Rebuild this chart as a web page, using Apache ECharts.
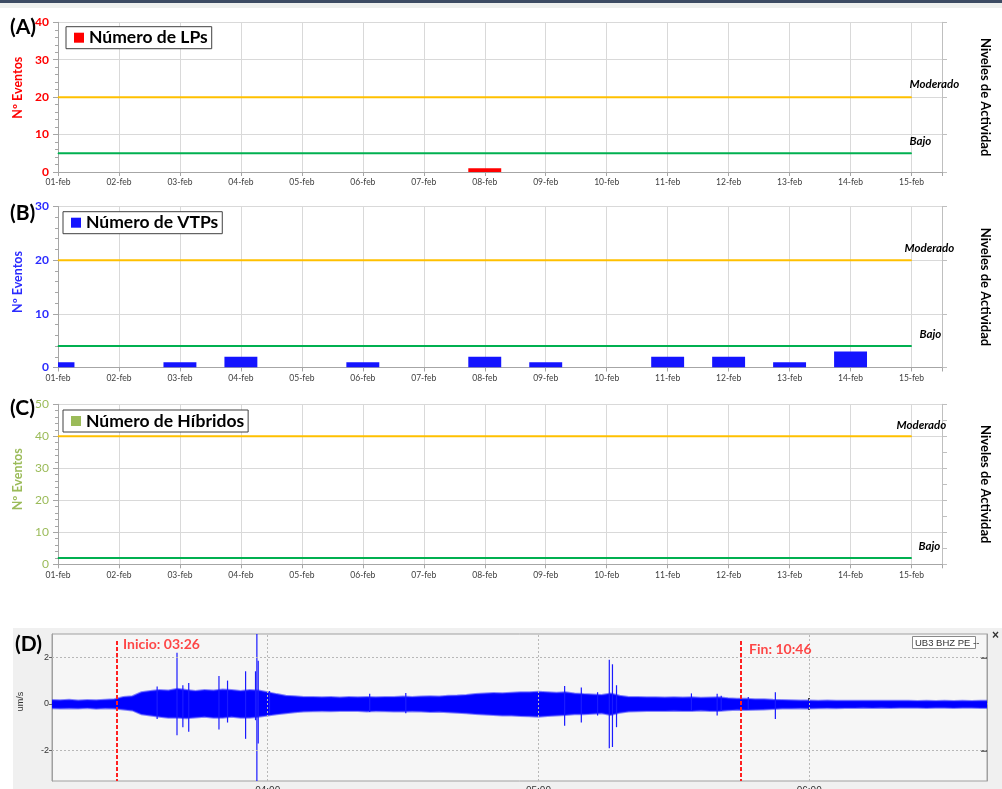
<!DOCTYPE html>
<html><head><meta charset="utf-8">
<script src="https://cdn.jsdelivr.net/npm/echarts@6/dist/echarts.min.js"></script>
<style>html,body{margin:0;padding:0;background:#fff;}#c{width:1002px;height:789px;}</style>
</head><body><div id="c"></div>
<script>
// ---------- DATA ----------
const dates = ['01-feb','02-feb','03-feb','04-feb','05-feb','06-feb','07-feb','08-feb','09-feb','10-feb','11-feb','12-feb','13-feb','14-feb','15-feb'];
const lpCounts  = [0,0,0,0,0,0,0,1,0,0,0,0,0,0,0];
const vtpCounts = [1,0,1,2,0,1,0,2,1,0,2,2,1,3,0];
const hybCounts = [0,0,0,0,0,0,0,0,0,0,0,0,0,0,0];
const seriesNames = ['Número de LPs','Número de VTPs','Número de Híbridos'];
const levelModerado = [20, 20, 40];
const levelBajo = [5, 4, 2];
const levelNames = ['Moderado','Bajo'];
const yMaxes = [40, 30, 50];

// Seismogram (minutes after 00:00), envelope
const seisTime = [192,194,196,198,200,202,204,206,208,210,212,214,216,218,220,222,224,226,228,230,232,234,236,238,240,242,244,246,248,250,252,254,256,258,260,262,264,266,268,270,272,274,276,278,280,282,284,286,288,290,292,294,296,298,300,302,304,306,308,310,312,314,316,318,320,322,324,326,328,330,332,334,336,338,340,342,344,346,348,350,352,354,356,358,360,362,364,366,368,370,372,374,376,378,380,382,384,386,388,390,392,394,396,398,400];
const seisUpper = [0.17,0.16,0.18,0.15,0.17,0.16,0.18,0.2,0.3,0.33,0.5,0.55,0.6,0.58,0.65,0.6,0.55,0.6,0.58,0.62,0.6,0.55,0.6,0.58,0.5,0.42,0.35,0.33,0.3,0.3,0.28,0.3,0.27,0.3,0.28,0.3,0.28,0.3,0.3,0.32,0.3,0.32,0.33,0.32,0.35,0.36,0.38,0.42,0.45,0.47,0.46,0.48,0.5,0.5,0.52,0.5,0.48,0.5,0.45,0.42,0.4,0.38,0.45,0.35,0.3,0.3,0.28,0.28,0.27,0.28,0.27,0.28,0.26,0.27,0.28,0.24,0.22,0.22,0.2,0.2,0.18,0.17,0.16,0.15,0.15,0.14,0.15,0.14,0.13,0.14,0.13,0.14,0.13,0.13,0.14,0.13,0.12,0.13,0.12,0.13,0.12,0.13,0.12,0.13,0.13];
const seisLower = [-0.18,-0.2,-0.19,-0.2,-0.18,-0.21,-0.19,-0.2,-0.24,-0.28,-0.45,-0.5,-0.55,-0.6,-0.6,-0.62,-0.58,-0.55,-0.6,-0.6,-0.55,-0.6,-0.6,-0.55,-0.5,-0.45,-0.4,-0.36,-0.33,-0.32,-0.3,-0.32,-0.3,-0.31,-0.3,-0.33,-0.3,-0.32,-0.33,-0.33,-0.32,-0.33,-0.35,-0.34,-0.36,-0.38,-0.4,-0.43,-0.46,-0.48,-0.5,-0.5,-0.52,-0.53,-0.55,-0.52,-0.5,-0.48,-0.45,-0.45,-0.42,-0.4,-0.48,-0.38,-0.33,-0.32,-0.3,-0.3,-0.3,-0.29,-0.3,-0.3,-0.28,-0.3,-0.3,-0.27,-0.25,-0.26,-0.25,-0.24,-0.22,-0.2,-0.2,-0.19,-0.2,-0.19,-0.18,-0.19,-0.18,-0.18,-0.17,-0.18,-0.17,-0.18,-0.17,-0.17,-0.17,-0.18,-0.17,-0.17,-0.18,-0.17,-0.17,-0.18,-0.18];
// spikes: [time, top, bottom]
const seisSpikes = [[215.5,0.75,-0.65],[219.9,2.2,-1.35],[221.2,0.8,-1.0],[222.5,0.9,-1.2],[229.2,1.2,-1.1],[231.1,1.0,-0.8],[235.1,1.4,-1.5],[237.3,1.4,-0.7],[237.6,3.0,-3.31],[237.9,1.85,-1.7],[240.4,0.55,-0.4],[262.6,0.43,-0.35],[270.6,0.47,-0.4],[305.8,0.77,-0.94],[309.5,0.7,-0.8],[313.1,0.5,-0.5],[315.7,1.9,-1.9],[316.4,1.7,-1.85],[317.3,0.8,-1.0],[333.9,0.45,-0.3],[339.6,0.43,-0.5],[340.5,0.35,-0.3],[346.5,0.3,-0.25],[352.5,0.5,-0.65]];
const seisTickValues = [240, 300, 360];
const seisTickLabels = ['04:00','05:00','06:00'];
const seisYTicks = [-2, 0, 2];
const eventTimes = [206.6, 344.9];
const eventLabels = ['Inicio: 03:26','Fin: 10:46'];
const stationLabel = 'UB3 BHZ PE --';

// ---------- LAYOUT / STYLE ----------
const F = 'Lato, "Open Sans", sans-serif';
const panelCfg = [
  {top:22.3, height:149.7, color:'#FF0000', axisColor:'#FF0000', bold:'bold', rInt:10, namePad:19,
   legTop:26.7, legLeft:66, modOff:[-2,-1], bajOff:[-2,0]},
  {top:206.5, height:161, color:'#1414FF', axisColor:'#2B2BFF', bold:'bold', rInt:10, namePad:10,
   legTop:211.7, legLeft:63, modOff:[-7,0], bajOff:[8,0]},
  {top:404.3, height:160, color:'#9BBB59', axisColor:'#9BBB59', bold:'normal', rInt:5, namePad:10,
   legTop:410, legLeft:63, modOff:[-15,0], bajOff:[7,0]}
];
const counts = [lpCounts, vtpCounts, hybCounts];
const GRAY = '#BFBFBF';

const grids = [], xAxes = [], yAxes = [], series = [], legends = [];
panelCfg.forEach((p, i) => {
  grids.push({left:58, top:p.top, width:884, height:p.height, containLabel:false, outerBoundsMode:'none'});
  xAxes.push({type:'value', gridIndex:i, min:0, max:14.5, interval:1,
    axisLine:{show:true, lineStyle:{color:'#A6A6A6', width:1}},
    axisTick:{show:true, length:4, lineStyle:{color:'#A6A6A6'}},
    axisLabel:{fontFamily:F, fontSize:8.5, color:'#404040', margin:6,
      formatter:v => Number.isInteger(v) ? dates[v] : ''},
    splitLine:{show:true, lineStyle:{color:'#D9D9D9'}}});
  yAxes.push({type:'value', gridIndex:i, min:0, max:yMaxes[i], interval:10, position:'left',
    name:'Nº Eventos', nameLocation:'middle', nameGap:31,
    nameTextStyle:{fontFamily:F, fontSize:12.5, fontWeight:'bold', color:p.axisColor, padding:[0,0,0,p.namePad]},
    axisLine:{show:true, lineStyle:{color:'#A6A6A6'}},
    axisTick:{show:true, length:5, lineStyle:{color:'#A6A6A6'}},
    minorTick:{show:true, splitNumber:5, length:3, lineStyle:{color:'#A6A6A6'}},
    axisLabel:{fontFamily:F, fontSize:12, fontWeight:p.bold, color:p.axisColor, margin:9},
    splitLine:{show:true, lineStyle:{color:'#D9D9D9'}}});
  yAxes.push({type:'value', gridIndex:i, min:0, max:yMaxes[i], interval:p.rInt, position:'right',
    name:'Niveles de Actividad', nameLocation:'middle', nameGap:37, nameRotate:-90,
    nameTextStyle:{fontFamily:F, fontSize:13, fontWeight:'bold', color:'#000'},
    axisLine:{show:true, lineStyle:{color:GRAY}},
    axisTick:{show:true, length:5, lineStyle:{color:GRAY}},
    axisLabel:{show:false}, splitLine:{show:false}});
  const lvl = (val, name, col, off) => ({
    type:'line', xAxisIndex:i, yAxisIndex:2*i, silent:true, z:2,
    symbol:'circle', symbolSize:1, showSymbol:true,
    lineStyle:{color:col, width:2}, itemStyle:{color:col},
    data:[[0,val], {value:[14,val], label:{show:true, formatter:name, position:'top', distance:5,
      align:'left', offset:off, fontFamily:F, fontSize:11.5, fontStyle:'italic', fontWeight:'bold', color:'#000'}}]
  });
  series.push(lvl(levelModerado[i], levelNames[0], '#FFC000', p.modOff));
  series.push(lvl(levelBajo[i], levelNames[1], '#00B050', p.bajOff));
  series.push({type:'custom', name:seriesNames[i], xAxisIndex:i, yAxisIndex:2*i, z:3, clip:true,
    itemStyle:{color:p.color}, data:counts[i].map((v,k)=>[k,v]), encode:{x:0, y:1},
    renderItem:(params, api) => {
      const v = api.value(1);
      if (!v) return null;
      const base = api.coord([api.value(0), 0]);
      const top = api.coord([api.value(0), v]);
      const w = api.size([1, 0])[0] * 0.54;
      return {type:'rect', shape:{x:base[0]-w/2, y:top[1], width:w, height:base[1]-top[1]},
        style:{fill:p.color}};
    }});
  legends.push({data:[seriesNames[i]], left:p.legLeft, top:p.legTop, orient:'horizontal',
    icon:'rect', itemWidth:10, itemHeight:10, padding:[2,4,2,8], borderColor:'#404040', borderWidth:1,
    backgroundColor:'#fff', selectedMode:false, itemStyle:{color:p.color},
    textStyle:{fontFamily:F, fontSize:17.5, fontWeight:'bold', color:'#000'}});
});

// Seismogram panel
grids.push({left:52, top:634, width:935, height:147, show:true, backgroundColor:'#F6F6F6', borderColor:'#A0A0A0', borderWidth:1, containLabel:false, outerBoundsMode:'none'});
const xMin = 192.2, xMax = 399.4, yMin = -3.31, yMax = 3.0;
xAxes.push({type:'value', gridIndex:3, min:xMin, max:xMax, position:'bottom',
  axisLine:{show:true, lineStyle:{color:'#BDBDBD', width:2}},
  axisTick:{show:true, inside:true, length:6, customValues:seisTickValues, lineStyle:{color:'#444', width:2}},
  axisLabel:{show:true, customValues:seisTickValues, fontFamily:'Liberation Sans', fontSize:10, color:'#333', margin:5,
    formatter:v => seisTickLabels[seisTickValues.indexOf(v)]},
  splitLine:{show:false}});
xAxes.push({type:'value', gridIndex:3, min:xMin, max:xMax, position:'top',
  axisLine:{show:true, lineStyle:{color:'#A0A0A0', width:1}},
  axisTick:{show:true, inside:true, length:6, customValues:seisTickValues, lineStyle:{color:'#444', width:2}},
  axisLabel:{show:false}, splitLine:{show:false}});
yAxes.push({type:'value', gridIndex:3, min:yMin, max:yMax, position:'left',
  name:'um/s', nameLocation:'middle', nameGap:27,
  nameTextStyle:{fontFamily:'Liberation Sans', fontSize:9, color:'#333', padding:[0,0,0,12]},
  axisLine:{show:true, lineStyle:{color:'#A0A0A0'}},
  axisTick:{show:true, length:3, customValues:seisYTicks, lineStyle:{color:'#666'}},
  axisLabel:{customValues:seisYTicks, fontFamily:'Liberation Sans', fontSize:9, color:'#333', margin:3},
  splitLine:{show:false}});
yAxes.push({type:'value', gridIndex:3, min:yMin, max:yMax, position:'right',
  axisLine:{show:true, lineStyle:{color:'#A0A0A0'}},
  axisTick:{show:true, inside:true, length:6, customValues:[-2,2], lineStyle:{color:'#444', width:1.5}},
  axisLabel:{show:false}, splitLine:{show:false}});

// dotted grid (behind trace)
series.push({type:'line', xAxisIndex:3, yAxisIndex:6, data:[], z:1, silent:true,
  markLine:{silent:true, symbol:'none', label:{show:false}, animation:false,
    lineStyle:{color:'#B8B8B8', type:[2,2], width:1},
    data:[{xAxis:seisTickValues[0]},{xAxis:seisTickValues[1]},{xAxis:seisTickValues[2]},{yAxis:2},{yAxis:-2}]}});
// envelope
series.push({type:'custom', xAxisIndex:3, yAxisIndex:6, z:2, silent:true, clip:true,
  data:[[seisTime[0], 0]],
  renderItem:(params, api) => {
    const pts = [];
    for (let k=0;k<seisTime.length;k++) pts.push(api.coord([seisTime[k], seisUpper[k]]));
    for (let k=seisTime.length-1;k>=0;k--) pts.push(api.coord([seisTime[k], seisLower[k]]));
    return {type:'polygon', shape:{points:pts}, style:{fill:'#0000FF', stroke:'rgba(40,40,255,0.55)', lineWidth:2}};
  }});
// spikes
series.push({type:'custom', xAxisIndex:3, yAxisIndex:6, z:3, silent:true, clip:true,
  data:seisSpikes, encode:{x:0, y:[1,2]},
  renderItem:(params, api) => {
    const a = api.coord([api.value(0), api.value(1)]);
    const b = api.coord([api.value(0), api.value(2)]);
    return {type:'line', shape:{x1:a[0], y1:a[1], x2:b[0], y2:b[1]}, style:{stroke:'#1a1aFF', lineWidth:1.2}};
  },
  markLine:{silent:true, symbol:'none', label:{show:false}, animation:false,
    lineStyle:{color:'#FF2020', type:[4,2], width:2},
    data:eventTimes.map(t => [{coord:[t, 2.7]}, {coord:[t, yMin]}])}});
// event labels
series.push({type:'scatter', xAxisIndex:3, yAxisIndex:6, z:5, silent:true, symbolSize:0,
  data:[{value:[eventTimes[0], 2.53], label:{distance:6}}, {value:[eventTimes[1], 2.32], label:{distance:8}}],
  label:{show:true, position:'right', formatter:p => eventLabels[p.dataIndex],
    fontFamily:F, fontSize:14, fontWeight:'bold', color:'#FF1A1A'}});

const graphic = [
  {type:'rect', shape:{x:0,y:0,width:1002,height:3}, style:{fill:'#3C4B63'}, silent:true},
  {type:'rect', shape:{x:0,y:3,width:1002,height:5}, style:{fill:'#EEF0EE'}, silent:true},
  {type:'rect', z:-100, shape:{x:13,y:628,width:989,height:161}, style:{fill:'#F0F0F0'}, silent:true},
  {type:'text', x:10, y:27, style:{text:'(A)', font:'bold 21px '+F, fill:'#000', verticalAlign:'middle'}},
  {type:'text', x:10, y:213, style:{text:'(B)', font:'bold 21px '+F, fill:'#000', verticalAlign:'middle'}},
  {type:'text', x:10, y:408, style:{text:'(C)', font:'bold 21px '+F, fill:'#000', verticalAlign:'middle'}},
  {type:'text', x:15, y:644, style:{text:'(D)', font:'bold 21px '+F, fill:'#000', verticalAlign:'middle'}},
  {type:'rect', shape:{x:912.5,y:636.5,width:63,height:12}, style:{fill:'#FFFFFF', stroke:'#8A8A8A', lineWidth:1}},
  {type:'text', x:915, y:643, style:{text:stationLabel, font:'9.5px "Liberation Sans"', fill:'#333', verticalAlign:'middle'}},
  {type:'text', x:992, y:636, style:{text:'×', font:'bold 12px "Liberation Sans"', fill:'#333', verticalAlign:'middle'}}
];

const chart = echarts.init(document.getElementById('c'), null, {renderer:'canvas'});
chart.setOption({animation:false, backgroundColor:'#FFFFFF', grid:grids, xAxis:xAxes, yAxis:yAxes,
  legend:legends, series:series, graphic:graphic});
</script></body></html>
